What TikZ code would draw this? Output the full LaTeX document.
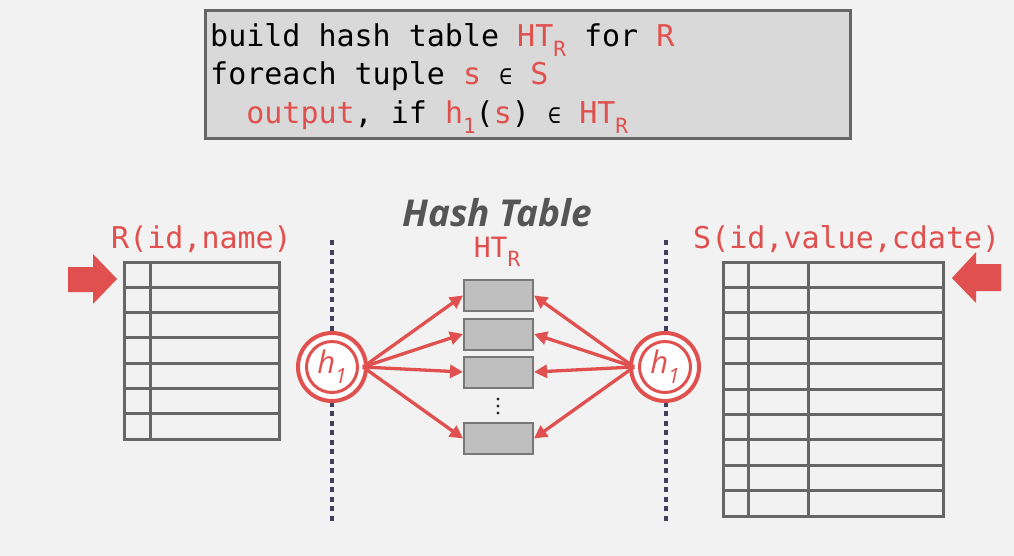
\documentclass[tikz,border=0pt]{standalone}
\usepackage{fontspec}
\setmainfont{Open Sans}
\newfontfamily\codefont{DejaVu Sans Mono}
\newfontfamily\hfont{Open Sans}
\usetikzlibrary{arrows.meta}
\definecolor{bg}{RGB}{242,242,242}
\definecolor{dbred}{RGB}{224,80,78}
\definecolor{tblgray}{RGB}{102,102,102}
\definecolor{boxgray}{RGB}{217,217,217}
\definecolor{bucketfill}{RGB}{191,191,191}
\definecolor{bucketline}{RGB}{120,120,120}
\definecolor{dotcol}{RGB}{64,64,92}
\definecolor{titlegray}{RGB}{85,85,85}
\newcommand\rd[1]{\textcolor{dbred}{#1}}
\newcommand\sbsc[1]{\raisebox{-0.33em}{\fontsize{21}{21}\selectfont #1}}
\newcommand\elm{{\fontsize{22}{22}\selectfont ∈}}
\begin{document}
\begin{tikzpicture}[x=1pt,y=-1pt,
  tbl/.style={draw=tblgray,line width=3pt},
  bucket/.style={draw=bucketline,line width=2pt,fill=bucketfill,minimum width=69pt,minimum height=31pt,inner sep=0pt},
  code/.style={anchor=base west,inner sep=0pt,font=\codefont\fontsize{30}{30}\selectfont,text=black},
  lbl/.style={anchor=base west,inner sep=0pt,font=\codefont\fontsize{30}{30}\selectfont,text=dbred},
  hring/.style={circle,draw=dbred,line width=4pt,fill=white,minimum size=68pt,inner sep=0pt},
  hin/.style={circle,draw=dbred,line width=3pt,minimum size=51pt,inner sep=0pt,text=dbred,font=\hfont\itshape\fontsize{31}{31}\selectfont},
  conn/.style={draw=dbred,line width=3.3pt,-{Triangle[length=13pt,width=13pt]}},
  sep/.style={draw=dotcol,line width=4pt,dash pattern=on 5pt off 4.5pt}
]
\fill[bg] (0,0) rectangle (1014,556);
\useasboundingbox (0,0) rectangle (1014,556);

% code box
\draw[fill=boxgray,draw=tblgray,line width=3pt] (205,11) rectangle (850,139);
\node[code] (l1) at (210,47) {build hash table \rd{HT\sbsc{R}} for \rd{R}};
\node[code] (l2) at (210,85) {foreach tuple \rd{s} \elm{} \rd{S}};
\node[code] (l3) at (210,124) {\ \ \rd{output}, if \rd{h\sbsc{1}}(\rd{s}) \elm{} \rd{HT\sbsc{R}}};

% titles
\node[anchor=base,inner sep=0pt,font=\hfont\bfseries\itshape\fontsize{37}{37}\selectfont,text=titlegray] (title) at (497,226) {Hash Table};
\node[anchor=base,inner sep=0pt,font=\codefont\fontsize{28}{28}\selectfont,text=dbred] (htr) at (497,257) {HT\sbsc{R}};
\node[lbl] (rlbl) at (111,248) {R(id,name)};
\node[lbl] (slbl) at (693,248) {S(id,value,cdate)};

% left table R
\draw[tbl] (124,262) rectangle (279,439);
\foreach \i in {1,...,6} \draw[tbl] (124,262+\i*25.29) -- (279,262+\i*25.29);
\draw[tbl] (150,262) -- (150,439);

% right table S
\draw[tbl] (723,262) rectangle (943,516);
\foreach \i in {1,...,9} \draw[tbl] (723,262+\i*25.4) -- (943,262+\i*25.4);
\draw[tbl] (748,262) -- (748,516);
\draw[tbl] (808,262) -- (808,516);

% block arrows
\fill[dbred] (68,267) -- (93,267) -- (93,254) -- (117,279) -- (93,304) -- (93,292) -- (68,292) -- cycle;
\fill[dbred] (1001,264) -- (976,264) -- (976,252) -- (952,278) -- (976,303) -- (976,291) -- (1001,291) -- cycle;

% separators
\draw[sep] (332,240) -- (332,522);
\draw[sep] (666,240) -- (666,522);

% buckets
\node[bucket] (b1) at (498.5,295.5) {};
\node[bucket] (b2) at (498.5,334) {};
\node[bucket] (b3) at (498.5,372) {};
\node[bucket] (b4) at (498.5,438.5) {};
\foreach \yy in {399,406,413} \fill[black!85] (498,\yy) circle (1.6pt);

% hash functions
\node[hring] (hL) at (332,367) {};
\node[hin] (hLi) at (332,367) {h\sbsc{1}};
\node[hring] (hR) at (665,367) {};
\node[hin] (hRi) at (665,367) {h\sbsc{1}};

% connectors
\foreach \b in {b1,b2,b3,b4} {
  \draw[conn] ([xshift=-5pt]hL.east) -- (\b.west);
  \draw[conn] ([xshift=5pt]hR.west) -- (\b.east);
}
\end{tikzpicture}
\end{document}
